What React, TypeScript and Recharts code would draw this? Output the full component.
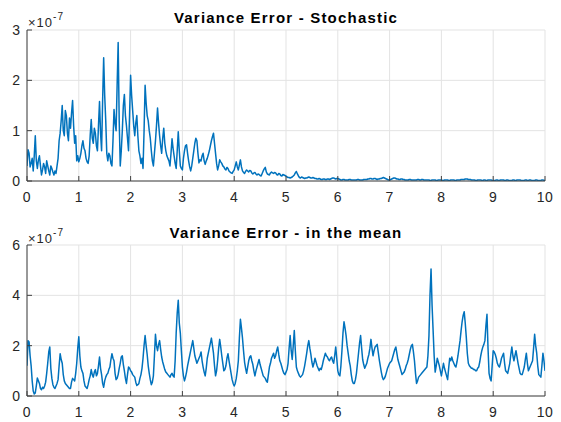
import React from 'react';
import { LineChart, Line, XAxis, YAxis, CartesianGrid } from 'recharts';

// time grid step (s)
const STEP = 0.02;

// Variance Error - Stochastic (units of 1e-7), sampled every 0.02 s from 0 to 10
const stochastic: number[] = [
  0.3, 0.62, 0.55, 0.28, 0.35, 0.45, 0.2, 0.5, 0.9, 0.4, 0.25, 0.42, 0.5, 0.3, 0.12, 0.22, 0.35, 0.28, 0.15, 0.4,
  0.3, 0.2, 0.12, 0.3, 0.25, 0.18, 0.12, 0.2, 0.15, 0.3, 0.45, 0.8, 0.95, 1.2, 1.5, 1.0, 0.9, 1.4, 1.3, 0.95,
  0.8, 1.25, 1.05, 1.35, 1.6, 1.1, 0.75, 0.9, 0.4, 0.5, 0.38, 0.45, 0.55, 0.7, 0.8, 0.65, 0.6, 0.45, 0.38, 0.35,
  0.5, 0.9, 1.22, 0.85, 0.75, 1.05, 0.95, 0.7, 0.6, 1.1, 1.58, 0.95, 0.6, 1.6, 2.45, 1.7, 1.2, 0.55, 0.4, 0.55,
  0.5, 0.35, 0.3, 0.8, 1.42, 1.15, 1.0, 1.9, 2.75, 1.2, 0.3, 0.6, 1.0, 1.5, 1.72, 1.3, 1.1, 0.85, 0.6, 1.3,
  2.1, 1.7, 1.4, 1.1, 0.9, 1.15, 1.3, 0.9, 0.6, 0.5, 0.35, 0.45, 0.25, 1.0, 1.9, 1.55, 1.3, 1.2, 1.0, 0.85,
  0.6, 0.4, 0.3, 0.55, 0.8, 1.1, 1.45, 1.15, 0.9, 0.7, 0.55, 0.85, 1.05, 0.75, 0.6, 0.5, 0.45, 0.4, 0.3, 0.55,
  0.84, 0.65, 0.5, 0.35, 0.25, 0.6, 0.98, 0.6, 0.3, 0.25, 0.22, 0.45, 0.6, 0.7, 0.72, 0.55, 0.4, 0.28, 0.2, 0.3,
  0.45, 0.6, 0.75, 0.85, 0.8, 0.55, 0.36, 0.42, 0.4, 0.5, 0.55, 0.4, 0.33, 0.4, 0.45, 0.52, 0.6, 0.7, 0.8, 0.88,
  0.95, 0.75, 0.55, 0.35, 0.22, 0.3, 0.42, 0.38, 0.35, 0.3, 0.28, 0.24, 0.22, 0.27, 0.25, 0.2, 0.18, 0.16, 0.15, 0.19,
  0.22, 0.3, 0.38, 0.28, 0.22, 0.32, 0.42, 0.28, 0.2, 0.17, 0.15, 0.19, 0.22, 0.2, 0.18, 0.21, 0.2, 0.16, 0.14, 0.16,
  0.17, 0.14, 0.12, 0.14, 0.13, 0.11, 0.1, 0.15, 0.2, 0.24, 0.27, 0.18, 0.14, 0.13, 0.12, 0.16, 0.18, 0.16, 0.15, 0.17,
  0.16, 0.13, 0.12, 0.15, 0.14, 0.11, 0.1, 0.13, 0.12, 0.11, 0.1, 0.08, 0.07, 0.07, 0.06, 0.07, 0.08, 0.1, 0.12, 0.16,
  0.19, 0.14, 0.1, 0.07, 0.06, 0.08, 0.07, 0.06, 0.05, 0.06, 0.06, 0.07, 0.08, 0.07, 0.06, 0.06, 0.07, 0.06, 0.05, 0.05,
  0.04, 0.04, 0.05, 0.04, 0.03, 0.03, 0.04, 0.04, 0.03, 0.03, 0.04, 0.04, 0.03, 0.04, 0.05, 0.06, 0.06, 0.05, 0.04, 0.05,
  0.05, 0.04, 0.03, 0.02, 0.02, 0.03, 0.03, 0.02, 0.02, 0.02, 0.02, 0.03, 0.03, 0.02, 0.02, 0.02, 0.02, 0.02, 0.02, 0.03,
  0.03, 0.02, 0.02, 0.02, 0.02, 0.03, 0.03, 0.03, 0.03, 0.04, 0.04, 0.05, 0.05, 0.04, 0.04, 0.05, 0.05, 0.04, 0.03, 0.04,
  0.04, 0.05, 0.05, 0.06, 0.07, 0.06, 0.05, 0.04, 0.03, 0.02, 0.02, 0.03, 0.04, 0.05, 0.06, 0.06, 0.05, 0.04, 0.04, 0.03,
  0.03, 0.04, 0.04, 0.03, 0.03, 0.02, 0.02, 0.02, 0.02, 0.03, 0.03, 0.02, 0.02, 0.02, 0.02, 0.02, 0.02, 0.03, 0.03, 0.02,
  0.02, 0.03, 0.03, 0.02, 0.02, 0.02, 0.02, 0.02, 0.02, 0.01, 0.01, 0.02, 0.02, 0.02, 0.02, 0.01, 0.01, 0.02, 0.02, 0.02,
  0.02, 0.01, 0.01, 0.02, 0.02, 0.02, 0.02, 0.01, 0.01, 0.02, 0.02, 0.02, 0.02, 0.01, 0.01, 0.02, 0.02, 0.02, 0.02, 0.03,
  0.03, 0.03, 0.03, 0.04, 0.04, 0.04, 0.03, 0.03, 0.03, 0.02, 0.02, 0.02, 0.02, 0.01, 0.01, 0.02, 0.02, 0.02, 0.02, 0.01,
  0.01, 0.02, 0.02, 0.01, 0.01, 0.02, 0.02, 0.02, 0.02, 0.01, 0.01, 0.01, 0.01, 0.02, 0.02, 0.01, 0.01, 0.02, 0.02, 0.02,
  0.02, 0.01, 0.01, 0.02, 0.02, 0.01, 0.01, 0.01, 0.01, 0.02, 0.02, 0.01, 0.01, 0.02, 0.02, 0.02, 0.02, 0.01, 0.01, 0.01,
  0.01, 0.02, 0.02, 0.01, 0.01, 0.02, 0.02, 0.01, 0.01, 0.01, 0.01, 0.02, 0.02, 0.01, 0.01, 0.01, 0.01, 0.02, 0.02, 0.01,
  0.01,
];

// Variance Error - in the mean (units of 1e-7), sampled every 0.02 s from 0 to 10
const inTheMean: number[] = [
  1.2, 2.2, 2.15, 1.6, 1.2, 0.6, 0.2, 0.08, 0.12, 0.4, 0.72, 0.6, 0.5, 0.3, 0.25, 0.35, 0.3, 0.4, 0.55, 0.9,
  1.3, 1.75, 1.95, 1.1, 0.7, 0.45, 0.35, 0.3, 0.4, 0.5, 0.65, 1.2, 1.68, 1.45, 1.3, 0.85, 0.6, 0.5, 0.45, 0.4,
  0.35, 0.3, 0.3, 0.55, 0.7, 0.65, 0.6, 0.9, 1.3, 1.9, 2.35, 1.6, 1.15, 1.0, 0.9, 0.6, 0.4, 0.35, 0.3, 0.45,
  0.65, 0.8, 1.05, 0.85, 0.75, 0.95, 1.05, 0.8, 0.9, 1.2, 1.55, 1.1, 0.85, 0.5, 0.35, 0.6, 0.75, 0.85, 0.9, 1.05,
  1.15, 1.45, 1.68, 1.5, 1.4, 0.9, 0.65, 0.7, 0.85, 1.1, 1.3, 1.55, 1.6, 1.25, 1.0, 0.7, 0.5, 0.85, 1.15, 1.1,
  1.0, 0.95, 0.85, 0.8, 0.75, 0.55, 0.42, 0.45, 0.5, 0.7, 0.85, 1.1, 1.5, 2.0, 2.4, 2.0, 1.65, 1.2, 0.9, 0.65,
  0.45, 0.55, 0.8, 1.6, 2.45, 2.0, 1.8, 2.05, 2.2, 1.85, 1.55, 1.35, 1.2, 1.05, 0.95, 0.9, 0.85, 0.8, 0.75, 0.85,
  0.9, 0.8, 0.75, 1.4, 2.5, 3.3, 3.8, 2.9, 2.5, 1.8, 1.15, 0.8, 0.6, 0.75, 0.95, 1.2, 1.4, 1.6, 1.8, 2.0,
  2.2, 1.9, 1.6, 1.45, 1.3, 1.4, 1.5, 1.6, 1.75, 1.4, 1.15, 0.95, 0.8, 1.1, 1.5, 1.7, 1.9, 2.1, 2.3, 2.0,
  1.7, 1.2, 0.8, 1.0, 1.4, 1.9, 2.25, 1.95, 1.6, 1.3, 1.0, 1.05, 1.2, 1.5, 1.68, 1.4, 1.15, 0.9, 0.65, 0.5,
  0.4, 0.5, 0.7, 1.0, 1.4, 2.3, 3.05, 2.7, 2.3, 1.8, 1.35, 1.1, 0.9, 1.15, 1.4, 1.55, 1.6, 1.4, 1.25, 1.0,
  0.8, 1.0, 1.15, 1.3, 1.45, 1.25, 1.1, 0.95, 0.8, 0.75, 0.7, 0.6, 0.55, 0.85, 1.15, 1.3, 1.5, 1.6, 1.7, 1.5,
  1.6, 1.8, 1.95, 1.65, 1.4, 1.3, 1.15, 1.0, 0.9, 0.85, 0.95, 1.05, 1.3, 1.9, 2.4, 1.8, 1.45, 2.0, 2.6, 1.8,
  1.15, 1.0, 0.9, 0.8, 0.75, 0.8, 0.85, 1.0, 1.2, 1.45, 1.7, 2.0, 2.2, 1.9, 1.65, 1.35, 1.15, 1.3, 1.5, 1.35,
  1.2, 1.1, 1.0, 1.1, 1.05, 1.2, 1.4, 1.55, 1.7, 1.6, 1.55, 1.45, 1.4, 1.5, 1.55, 1.4, 1.3, 1.6, 1.95, 1.5,
  1.0, 0.85, 0.8, 1.2, 1.8, 2.5, 2.95, 2.7, 2.4, 2.0, 1.7, 1.4, 1.2, 0.85, 0.6, 0.5, 0.5, 0.65, 0.9, 1.3,
  1.7, 2.1, 2.4, 1.9, 1.45, 1.25, 1.1, 1.2, 1.3, 1.5, 1.65, 1.9, 2.25, 1.9, 1.6, 1.8, 1.95, 2.0, 2.05, 1.75,
  1.45, 1.2, 0.95, 0.75, 0.65, 0.7, 0.8, 0.95, 1.1, 1.2, 1.3, 1.35, 1.4, 1.55, 1.7, 1.85, 1.95, 1.7, 1.45, 1.3,
  1.15, 1.0, 0.85, 0.9, 0.95, 1.05, 1.2, 1.3, 1.45, 1.65, 1.85, 2.0, 2.05, 1.75, 1.4, 0.9, 0.5, 0.6, 0.75, 0.8,
  0.85, 0.9, 0.95, 1.0, 1.05, 1.1, 1.15, 1.6, 2.4, 4.0, 5.05, 3.6, 2.6, 1.6, 0.95, 1.2, 1.5, 1.35, 1.2, 1.0,
  0.8, 1.05, 1.3, 1.1, 0.95, 0.8, 0.65, 1.1, 1.5, 1.4, 1.55, 1.4, 1.3, 1.2, 1.15, 1.35, 1.6, 1.9, 2.2, 2.6,
  2.95, 3.2, 3.35, 2.9, 2.35, 1.7, 1.3, 1.2, 1.15, 1.1, 1.1, 1.05, 1.05, 1.0, 1.0, 1.1, 1.15, 1.35, 1.6, 1.8,
  1.95, 2.05, 2.2, 2.8, 3.25, 1.9, 0.9, 0.7, 0.6, 1.2, 1.8, 1.75, 1.65, 1.5, 1.3, 1.2, 1.15, 1.3, 1.5, 1.6,
  1.7, 1.3, 1.0, 0.95, 0.9, 1.1, 1.3, 1.65, 1.95, 1.6, 1.4, 1.6, 1.8, 1.55, 1.3, 1.1, 0.9, 0.85, 0.85, 1.0,
  1.15, 1.45, 1.7, 1.3, 1.0, 1.1, 1.2, 1.3, 1.4, 1.9, 2.45, 2.0, 1.7, 1.2, 0.85, 0.8, 0.75, 1.2, 1.7, 1.4,
  1.0,
];

const xTicks = [0, 1, 2, 3, 4, 5, 6, 7, 8, 9, 10];
const topYTicks = [0, 1, 2, 3];
const bottomYTicks = [0, 2, 4, 6];
const topTitle = 'Variance Error - Stochastic';
const bottomTitle = 'Variance Error - in the mean';
const exponentBase = '\u00d710';
const exponentPower = '-7';

const topData = stochastic.map((v, i) => ({ t: Math.round(i * STEP * 100) / 100, v }));
const bottomData = inTheMean.map((v, i) => ({ t: Math.round(i * STEP * 100) / 100, v }));

const FONT = '"Liberation Sans", Arial, Helvetica, sans-serif';
const AXIS = '#404040';
const TEXT = '#262626';
const GRID = '#e3e3e3';
const LINE = '#0072BD';
const TL = 5;

const BottomTick = (p: any) => (
  <g>
    <line x1={p.x} y1={p.y} x2={p.x} y2={p.y - TL} stroke={AXIS} strokeWidth={1} />
    <text x={p.x} y={p.y + 21} textAnchor="middle" fontSize={14} letterSpacing={0.5} fontFamily={FONT} fill={TEXT}>
      {p.payload.value}
    </text>
  </g>
);
const TopTick = (p: any) => (
  <line x1={p.x} y1={p.y} x2={p.x} y2={p.y + TL} stroke={AXIS} strokeWidth={1} />
);
const LeftTick = (p: any) => (
  <g>
    <line x1={p.x} y1={p.y} x2={p.x + TL} y2={p.y} stroke={AXIS} strokeWidth={1} />
    <text x={p.x - 7} y={p.y + 5} textAnchor="end" fontSize={14} fontFamily={FONT} fill={TEXT}>
      {p.payload.value}
    </text>
  </g>
);
const RightTick = (p: any) => (
  <line x1={p.x} y1={p.y} x2={p.x - TL} y2={p.y} stroke={AXIS} strokeWidth={1} />
);

function Panel({ data, yTicks, marginTop, xHeight }: { data: any[]; yTicks: number[]; marginTop: number; xHeight: number }) {
  const yMax = yTicks[yTicks.length - 1];
  return (
    <LineChart width={561} height={211} data={data} margin={{ top: marginTop, right: 16, bottom: 0, left: 0 }}>
      <CartesianGrid stroke={GRID} strokeWidth={1} />
      <XAxis
        dataKey="t"
        type="number"
        domain={[0, 10]}
        ticks={xTicks}
        interval={0}
        height={xHeight}
        tickSize={0}
        tickMargin={0}
        tickLine={false}
        axisLine={{ stroke: AXIS }}
        tick={BottomTick}
        allowDataOverflow
      />
      <XAxis
        xAxisId="top"
        orientation="top"
        dataKey="t"
        type="number"
        domain={[0, 10]}
        ticks={xTicks}
        interval={0}
        height={0}
        tickSize={0}
        tickMargin={0}
        tickLine={false}
        axisLine={{ stroke: AXIS }}
        tick={TopTick}
        allowDataOverflow
      />
      <YAxis
        type="number"
        domain={[0, yMax]}
        ticks={yTicks}
        interval={0}
        width={27}
        tickSize={0}
        tickMargin={0}
        tickLine={false}
        axisLine={{ stroke: AXIS }}
        tick={LeftTick}
        allowDataOverflow
      />
      <YAxis
        yAxisId="right"
        orientation="right"
        type="number"
        domain={[0, yMax]}
        ticks={yTicks}
        interval={0}
        width={0}
        tickSize={0}
        tickMargin={0}
        tickLine={false}
        axisLine={{ stroke: AXIS }}
        tick={RightTick}
        allowDataOverflow
      />
      <Line
        type="linear"
        dataKey="v"
        stroke={LINE}
        strokeWidth={1.5}
        strokeLinejoin="round"
        dot={false}
        activeDot={false}
        isAnimationActive={false}
      />
    </LineChart>
  );
}

export default function App() {
  return (
    <div style={{ position: 'fixed', left: 0, top: 0, width: 561, height: 422, background: '#fff', overflow: 'hidden' }}>
      <div style={{ position: 'absolute', left: 0, top: 0 }}>
        <Panel data={topData} yTicks={topYTicks} marginTop={30} xHeight={30} />
      </div>
      <div style={{ position: 'absolute', left: 0, top: 211 }}>
        <Panel data={bottomData} yTicks={bottomYTicks} marginTop={34} xHeight={26} />
      </div>
      <svg width={561} height={422} style={{ position: 'absolute', left: 0, top: 0, pointerEvents: 'none' }}>
        <text x={286} y={23} textAnchor="middle" fontSize={15} letterSpacing={1.2} fontWeight="bold" fontFamily={FONT} fill="#000">
          {topTitle}
        </text>
        <text x={286} y={238} textAnchor="middle" fontSize={15} letterSpacing={1.2} fontWeight="bold" fontFamily={FONT} fill="#000">
          {bottomTitle}
        </text>
        <text x={28} y={27} fontSize={13} letterSpacing={1} fontFamily={FONT} fill={TEXT}>
          {exponentBase}
          <tspan dy={-7} fontSize={10}>{exponentPower}</tspan>
        </text>
        <text x={28} y={243} fontSize={13} letterSpacing={1} fontFamily={FONT} fill={TEXT}>
          {exponentBase}
          <tspan dy={-7} fontSize={10}>{exponentPower}</tspan>
        </text>
      </svg>
    </div>
  );
}
